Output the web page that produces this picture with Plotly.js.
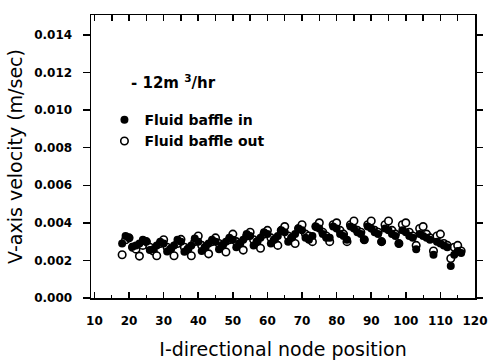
<!DOCTYPE html>
<html>
<head>
<meta charset="utf-8">
<script src="https://cdn.plot.ly/plotly-3.0.1.min.js"></script>
<style>html,body{margin:0;padding:0;background:#fff;}#chart{width:488px;height:364px;}</style>
</head>
<body>
<div id="chart"></div>
<script>
// I-directional node positions
const nodes = [18,19,20,21,22,23,24,25,26,27,28,29,30,31,32,33,34,35,36,37,38,39,40,41,42,43,44,45,46,47,48,49,50,51,52,53,54,55,56,57,58,59,60,61,62,63,64,65,66,67,68,69,70,71,72,73,74,75,76,77,78,79,80,81,82,83,84,85,86,87,88,89,90,91,92,93,94,95,96,97,98,99,100,101,102,103,104,105,106,107,108,109,110,111,112,113,114,115,116];

// Fluid baffle in (filled)
const baffleIn = [0.0029,0.0033,0.0032,0.00273,0.0028,0.0029,0.0031,0.0030,0.00255,0.0026,0.0028,0.0030,0.0029,0.00248,0.0026,0.0028,0.0031,0.0030,0.00246,0.0026,0.0028,0.00317,0.0030,0.0025,0.0027,0.0029,0.0031,0.0030,0.0026,0.0028,0.0030,0.0032,0.0031,0.0027,0.0029,0.0031,0.0034,0.0033,0.0028,0.0030,0.0032,0.0035,0.0034,0.0029,0.0031,0.0033,0.0036,0.0035,0.0030,0.0032,0.0034,0.0037,0.0036,0.0032,0.0031,0.0033,0.0038,0.0037,0.0034,0.0032,0.0032,0.0038,0.0037,0.0034,0.0033,0.0031,0.0038,0.0037,0.0035,0.0034,0.0031,0.0038,0.0037,0.0035,0.0034,0.0030,0.0037,0.0036,0.0034,0.0033,0.0029,0.0036,0.0035,0.0033,0.0032,0.0026,0.0034,0.0033,0.0032,0.0031,0.0023,0.0030,0.0029,0.0028,0.0027,0.0017,0.0023,0.0025,0.0024];

// Fluid baffle out (open)
const baffleOut = [0.0023,0.0031,0.0032,0.0027,0.0026,0.00223,0.0028,0.0030,0.0027,0.0025,0.00225,0.0029,0.0031,0.0027,0.0026,0.00225,0.0029,0.00312,0.0027,0.0026,0.00225,0.0030,0.0033,0.0028,0.0027,0.00235,0.0030,0.0032,0.0029,0.0028,0.00245,0.0031,0.0034,0.0030,0.0029,0.00255,0.0033,0.0035,0.0031,0.0030,0.00265,0.0034,0.0036,0.0032,0.0031,0.0028,0.0036,0.0038,0.0033,0.0032,0.0029,0.0037,0.0039,0.0034,0.0033,0.0030,0.0038,0.0040,0.0035,0.0033,0.0030,0.0039,0.0040,0.0036,0.0034,0.0030,0.0039,0.0041,0.0036,0.0035,0.0031,0.0039,0.0041,0.0036,0.0035,0.0030,0.0039,0.0041,0.0036,0.0034,0.0029,0.0039,0.0040,0.0035,0.0033,0.0028,0.0037,0.0038,0.0034,0.0032,0.0025,0.0033,0.0034,0.0029,0.0028,0.0021,0.0027,0.0028,0.0025];

const seriesNames = ['Fluid baffle in', 'Fluid baffle out'];
const yTickVals = [0, 0.002, 0.004, 0.006, 0.008, 0.010, 0.012, 0.014];
const yTickText = ['0.000','0.002','0.004','0.006','0.008','0.010','0.012','0.014'];
const xTickVals = [10,20,30,40,50,60,70,80,90,100,110,120];
const xTickText = ['10','20','30','40','50','60','70','80','90','100','110','120'];

const xRange = [9, 120];
const yRange = [0, 0.01506];
const tickFont = {family: 'DejaVu Sans', size: 12, color: '#000', weight: 'bold'};

const traces = [
  {
    x: nodes, y: baffleOut, name: seriesNames[1], type: 'scatter', mode: 'markers',
    marker: {symbol: 'circle', size: 7.5, color: '#fff', line: {width: 1.6, color: '#000'}},
    cliponaxis: false, legendrank: 2
  },
  {
    x: nodes, y: baffleIn, name: seriesNames[0], type: 'scatter', mode: 'markers',
    marker: {symbol: 'circle', size: 8, color: '#000', line: {width: 0}},
    cliponaxis: false, legendrank: 1
  },
  {x: [], y: [], xaxis: 'x2', yaxis: 'y2', showlegend: false, hoverinfo: 'skip', type: 'scatter'}
];

const layout = {
  width: 488, height: 364,
  margin: {l: 91, r: 13, t: 15, b: 66, pad: 0},
  paper_bgcolor: '#fff', plot_bgcolor: '#fff',
  showlegend: true,
  legend: {
    x: 0.035, y: 0.685, xanchor: 'left', yanchor: 'top',
    bgcolor: 'rgba(0,0,0,0)', borderwidth: 0,
    font: {family: 'DejaVu Sans', size: 14, color: '#000', weight: 'bold'},
    tracegroupgap: 0, itemwidth: 30
  },
  xaxis: {
    range: xRange, tickmode: 'array', tickvals: xTickVals, ticktext: xTickText,
    ticks: 'inside', ticklen: 6, tickwidth: 1.5, tickcolor: '#000',
    minor: {dtick: 5, ticks: 'inside', ticklen: 3, tickwidth: 1, tickcolor: '#000'},
    showline: true, linecolor: '#000', linewidth: 1.5,
    showgrid: false, zeroline: false, tickfont: tickFont, ticklabelstandoff: 11,
    title: {text: 'I-directional node position', font: {family: 'DejaVu Sans', size: 19, color: '#000'}, standoff: 16},
    automargin: false
  },
  xaxis2: {
    range: xRange, overlaying: 'x', side: 'top', dtick: 5, tick0: 10,
    ticks: 'inside', ticklen: 6, tickwidth: 1.5, tickcolor: '#000',
    showticklabels: false, showline: true, linecolor: '#000', linewidth: 1.5,
    showgrid: false, zeroline: false
  },
  yaxis: {
    range: yRange, tickmode: 'array', tickvals: yTickVals, ticktext: yTickText,
    ticks: 'outside', ticklen: 7, tickwidth: 1.5, tickcolor: '#000',
    showline: true, linecolor: '#000', linewidth: 1.5,
    showgrid: false, zeroline: false, tickfont: tickFont, ticklabelstandoff: 8,
    title: {text: 'V-axis velocity (m/sec)', font: {family: 'DejaVu Sans', size: 19, color: '#000'}, standoff: 6},
    automargin: false
  },
  yaxis2: {
    range: yRange, overlaying: 'y', side: 'right', tickmode: 'array', tickvals: yTickVals,
    ticks: 'outside', ticklen: 6, tickwidth: 1.5, tickcolor: '#000',
    showticklabels: false, showline: true, linecolor: '#000', linewidth: 1.5,
    showgrid: false, zeroline: false
  },
  annotations: [{
    xref: 'paper', yref: 'paper', x: 0.099, y: 0.763, xanchor: 'left', yanchor: 'middle',
    text: '- 12m <sup>3</sup>/hr', showarrow: false,
    font: {family: 'DejaVu Sans', size: 15, color: '#000', weight: 'bold'}
  }]
};

Plotly.newPlot('chart', traces, layout, {displayModeBar: false, staticPlot: true});
</script>
</body>
</html>
